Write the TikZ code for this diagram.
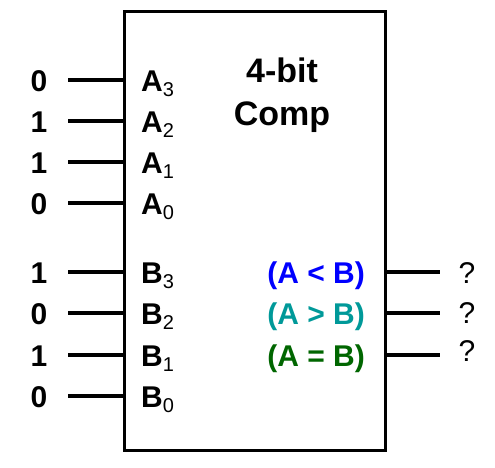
\documentclass[tikz,border=0pt]{standalone}
\usepackage{fontspec}
\setmainfont{Liberation Sans}
\usetikzlibrary{positioning}
\definecolor{lessblue}{RGB}{0, 0, 255}
\definecolor{moreteal}{RGB}{0, 153, 153}
\definecolor{equalgreen}{RGB}{0, 102, 0}
\newcommand{\pinfont}{\fontsize{30}{30}\selectfont\bfseries}
\newcommand{\titlefont}{\fontsize{34}{34}\selectfont\bfseries}
\newcommand{\subpin}[1]{\raisebox{-5pt}{\fontsize{20}{20}\selectfont\mdseries #1}}
\tikzset{%
    wire/.style={line width=3.5pt},
    bitval/.style={anchor=base, inner sep=0pt, font=\pinfont},
    pinname/.style={anchor=base west, inner sep=0pt, font=\pinfont},
    outname/.style={anchor=base east, inner sep=0pt, font=\pinfont},
    unknown/.style={anchor=base, inner sep=0pt, font=\fontsize{30}{30}\selectfont}
}

\begin{document}
\begin{tikzpicture}[x=1pt, y=-1pt]
    \useasboundingbox (0, 0) rectangle (495, 467);

    % Comparator block
    \node[draw, line width=3pt, minimum width=261pt, minimum height=439pt,
          inner sep=0pt] (comp) at (254.5, 230.5) {};

    \node[anchor=base, font=\titlefont] (title1) at (282, 82) {4-bit};
    \node[anchor=base, font=\titlefont] (title2) at (282, 125) {Comp};

    % Inputs
    \foreach \bus/\idx/\val/\y in {A/3/0/80, A/2/1/121, A/1/1/162, A/0/0/203,
                                   B/3/1/272, B/2/0/313, B/1/1/355, B/0/0/396}{%
        \node[bitval] (val\bus\idx) at (39, \y+11) {\val};
        \coordinate (in\bus\idx) at (68, \y);
        \draw[wire] (in\bus\idx) -- (in\bus\idx -| comp.west);
        \node[pinname] (pin\bus\idx) at (141, \y+11) {\bus\subpin{\idx}};
    };

    % Outputs
    \foreach \name/\txt/\col/\y/\q in {lt/{(A < B)}/lessblue/272/283,
                                       gt/{(A > B)}/moreteal/313/323,
                                       eq/{(A = B)}/equalgreen/355/361}{%
        \node[outname, text=\col] (out\name) at (365, \y+11) {\txt};
        \coordinate (end\name) at (440, \y);
        \draw[wire] (comp.east |- end\name) -- (end\name);
        \node[unknown] (q\name) at (467, \q) {?};
    };

\end{tikzpicture}
\end{document}
